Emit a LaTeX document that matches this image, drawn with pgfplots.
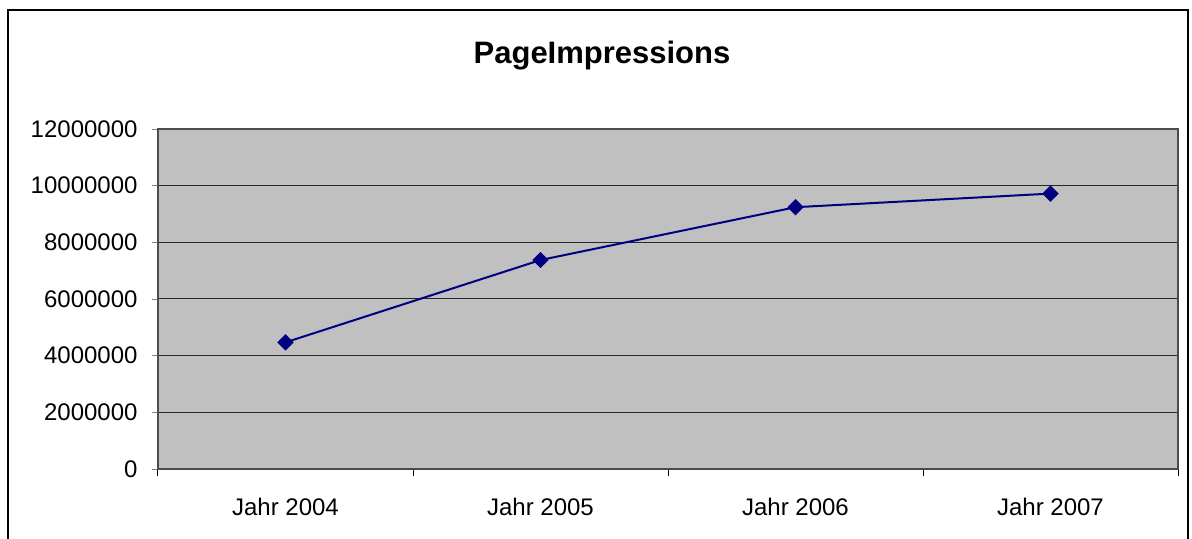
\documentclass[border=0pt]{standalone}
\usepackage{pgfplots}
\pgfplotsset{compat=1.18}
\usepackage{fontspec}
\setmainfont{Liberation Sans}
\begin{document}
\begin{tikzpicture}
\useasboundingbox (-79pt,-35pt) rectangle (517pt,234.5pt);
\draw[line width=1pt,black] (-75pt,-40pt) rectangle (515pt,229.5pt);
\begin{axis}[
  at={(0,0)}, anchor=south west,
  scale only axis, width=510pt, height=170pt,
  xmin=0, xmax=4, ymin=0, ymax=12000000,
  axis background/.style={fill={rgb,255:red,192;green,192;blue,192}},
  axis line style={draw=black!70, line width=0.6pt},
  xtick={0.5,1.5,2.5,3.5},
  xticklabels={Jahr 2004,Jahr 2005,Jahr 2006,Jahr 2007},
  minor xtick={0,1,2,3,4},
  xtick pos=bottom, ytick pos=left,
  major x tick style={draw=none},
  minor x tick style={draw=black, line width=0.5pt},
  ytick={0,2000000,4000000,6000000,8000000,10000000,12000000},
  yticklabels={0,2000000,4000000,6000000,8000000,10000000,12000000},
  scaled y ticks=false,
  tick align=outside,
  major tick length=3.2pt, minor tick length=3.5pt,
  ymajorgrids,
  grid style={black!85, line width=0.5pt},
  ticklabel style={font=\fontsize{12pt}{14pt}\selectfont},
  xticklabel style={yshift=-8pt},
  yticklabel style={xshift=-3.5pt},
  clip=false,
]
\addplot[color={rgb,255:red,0;green,0;blue,128}, line width=1pt, mark=square*, mark size=2.4pt, mark options={solid, rotate=45}]
  coordinates {(0.5,4470000) (1.5,7375000) (2.5,9240000) (3.5,9720000)};
\end{axis}
\node[font=\fontsize{15.5pt}{18pt}\selectfont\bfseries] at (222pt,206.5pt) {PageImpressions};
\end{tikzpicture}
\end{document}
